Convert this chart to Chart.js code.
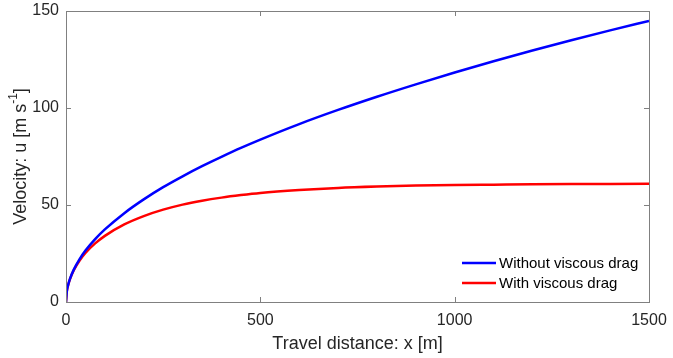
<!DOCTYPE html>
<html>
<head>
<meta charset="utf-8">
<script src="https://cdn.jsdelivr.net/npm/chart.js@4"></script>
<style>
  html, body { margin: 0; padding: 0; background: #fff; }
  #wrap { width: 673px; height: 358px; }
</style>
</head>
<body>
<div id="wrap"><canvas id="chart" width="673" height="358"></canvas></div>
<script>
// travel distance x [m]
const distance = [0, 2, 5, 10, 20, 35, 50, 75, 100, 150, 200, 250, 300, 350, 400, 450, 500, 600, 700, 800, 900, 1000, 1100, 1200, 1300, 1400, 1500];
// velocity u [m/s]
const withoutDrag = [0, 5.3, 8.4, 11.8, 16.7, 22.1, 26.5, 32.4, 37.4, 45.8, 52.9, 59.2, 64.8, 70.0, 74.8, 79.4, 83.7, 91.7, 99.0, 105.8, 112.2, 118.3, 124.1, 129.6, 134.9, 140.0, 144.9];
const withDrag = [0, 5.3, 8.3, 11.7, 16.4, 21.4, 25.3, 30.2, 34.1, 40.0, 44.3, 47.6, 50.2, 52.2, 53.8, 55.1, 56.2, 57.7, 58.8, 59.5, 60.0, 60.3, 60.5, 60.7, 60.8, 60.85, 60.9];
const xTicks = [0, 500, 1000, 1500];
const yTicks = [0, 50, 100, 150];

const FONT = 'Liberation Sans, Arial, Helvetica, sans-serif';
const AXIS = '#808080';
const TEXT = '#262626';

const toPoints = (ys) => distance.map((x, i) => ({ x: x, y: ys[i] }));

// frame, inward ticks, axis titles and the legend, MATLAB style
const matlabAxes = {
  id: 'matlabAxes',
  afterDraw(chart) {
    const { ctx, chartArea: a, scales } = chart;
    ctx.save();
    ctx.strokeStyle = AXIS;
    ctx.lineWidth = 1;
    ctx.strokeRect(Math.round(a.left) + 0.5, Math.round(a.top) + 0.5,
      Math.round(a.right - a.left), Math.round(a.bottom - a.top));

    const tl = 5;
    ctx.beginPath();
    xTicks.forEach(v => {
      const px = Math.round(scales.x.getPixelForValue(v)) + 0.5;
      ctx.moveTo(px, a.bottom); ctx.lineTo(px, a.bottom - tl);
      ctx.moveTo(px, a.top); ctx.lineTo(px, a.top + tl);
    });
    yTicks.forEach(v => {
      const py = Math.round(scales.y.getPixelForValue(v)) + 0.5;
      ctx.moveTo(a.left, py); ctx.lineTo(a.left + tl, py);
      ctx.moveTo(a.right, py); ctx.lineTo(a.right - tl, py);
    });
    ctx.stroke();

    // x title
    ctx.fillStyle = TEXT;
    ctx.font = '18px ' + FONT;
    ctx.textAlign = 'center';
    ctx.textBaseline = 'middle';
    ctx.fillText('Travel distance: x [m]', (a.left + a.right) / 2, 344);

    // y title with superscript
    ctx.translate(21, (a.top + a.bottom) / 2);
    ctx.rotate(-Math.PI / 2);
    const main = 'Velocity: u [m s';
    const sup = '-1';
    const tail = ']';
    ctx.font = '18px ' + FONT;
    const wMain = ctx.measureText(main).width;
    const wTail = ctx.measureText(tail).width;
    ctx.font = '12px ' + FONT;
    const wSup = ctx.measureText(sup).width;
    let x0 = -(wMain + wSup + wTail) / 2;
    ctx.textAlign = 'left';
    ctx.font = '18px ' + FONT;
    ctx.fillText(main, x0, 0);
    ctx.font = '12px ' + FONT;
    ctx.fillText(sup, x0 + wMain, -7);
    ctx.font = '18px ' + FONT;
    ctx.fillText(tail, x0 + wMain + wSup, 0);
    ctx.restore();

    // legend
    ctx.save();
    ctx.font = '15px ' + FONT;
    ctx.textAlign = 'left';
    ctx.textBaseline = 'middle';
    chart.data.datasets.forEach((ds, i) => {
      const y = 263 + i * 20;
      ctx.strokeStyle = ds.borderColor;
      ctx.lineWidth = 2.5;
      ctx.beginPath();
      ctx.moveTo(462, y); ctx.lineTo(496, y);
      ctx.stroke();
      ctx.fillStyle = '#000';
      ctx.fillText(ds.label, 499, y + 1);
    });
    ctx.restore();
  }
};

new Chart(document.getElementById('chart'), {
  type: 'line',
  data: {
    datasets: [
      { label: 'Without viscous drag', data: toPoints(withoutDrag), borderColor: '#0000ff', borderWidth: 2.5, pointRadius: 0, cubicInterpolationMode: 'monotone' },
      { label: 'With viscous drag', data: toPoints(withDrag), borderColor: '#ff0000', borderWidth: 2.5, pointRadius: 0, cubicInterpolationMode: 'monotone' }
    ]
  },
  options: {
    responsive: false,
    animation: false,
    layout: { padding: { left: 0, right: 24, top: 11, bottom: 0 } },
    plugins: { legend: { display: false }, tooltip: { enabled: false } },
    scales: {
      x: {
        type: 'linear', min: 0, max: 1500,
        afterBuildTicks: (s) => { s.ticks = xTicks.map(v => ({ value: v })); },
        afterFit: (s) => { s.height = 56; s.paddingLeft = 0; s.paddingRight = 0; },
        grid: { display: false, drawTicks: false },
        border: { display: false },
        ticks: { color: TEXT, font: { family: FONT, size: 16 }, padding: 9, maxRotation: 0, callback: (v) => String(v) }
      },
      y: {
        type: 'linear', min: 0, max: 150,
        afterBuildTicks: (s) => { s.ticks = yTicks.map(v => ({ value: v })); },
        afterFit: (s) => { s.width = 66; s.paddingTop = 0; s.paddingBottom = 0; },
        grid: { display: false, drawTicks: false },
        border: { display: false },
        ticks: { color: TEXT, font: { family: FONT, size: 16 }, padding: 7, callback: (v) => String(v) }
      }
    }
  },
  plugins: [matlabAxes]
});
</script>
</body>
</html>
